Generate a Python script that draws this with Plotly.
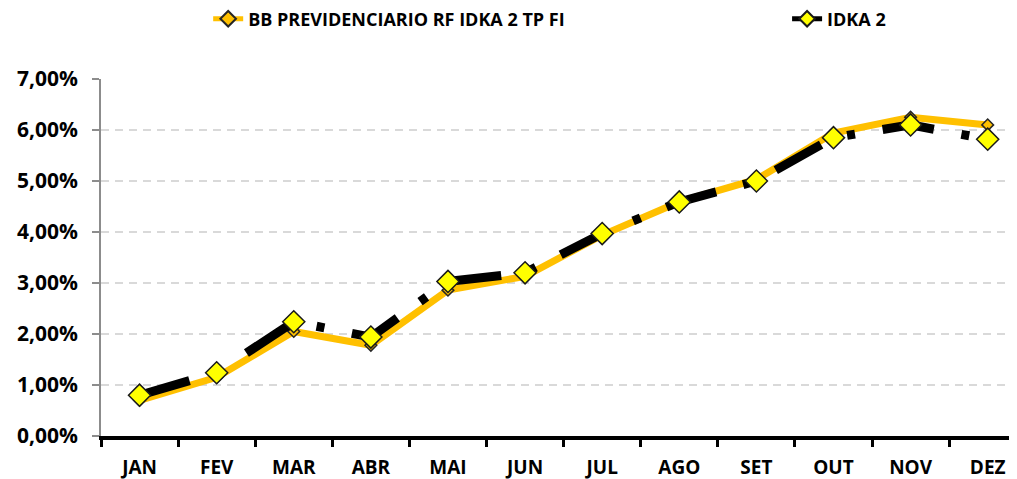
import plotly.graph_objects as go

months = ["JAN", "FEV", "MAR", "ABR", "MAI", "JUN", "JUL", "AGO", "SET", "OUT", "NOV", "DEZ"]
bb_fund = [0.70, 1.15, 2.05, 1.78, 2.86, 3.13, 3.94, 4.59, 5.03, 5.94, 6.25, 6.10]
idka2 = [0.80, 1.24, 2.24, 1.94, 3.03, 3.20, 3.97, 4.59, 5.00, 5.85, 6.10, 5.82]
y_tick_vals = [0, 1, 2, 3, 4, 5, 6, 7]
y_tick_text = ["0,00%", "1,00%", "2,00%", "3,00%", "4,00%", "5,00%", "6,00%", "7,00%"]

FONT = "Open Sans"

fig = go.Figure()
fig.add_trace(go.Scatter(
    x=months, y=bb_fund, name="BB PREVIDENCIARIO RF IDKA 2 TP FI",
    mode="lines+markers",
    line=dict(color="#FFC000", width=7),
    marker=dict(symbol="diamond", size=9, color="#FFC000",
                line=dict(color="#262626", width=1.5)),
    hoverinfo="skip", legend="legend",
))
fig.add_trace(go.Scatter(
    x=months, y=idka2, name="IDKA 2",
    mode="lines+markers",
    line=dict(color="#000000", width=9, dash="52px,28px,8px,28px"),
    marker=dict(symbol="diamond", size=17, color="#FFFF00",
                line=dict(color="#1a1a1a", width=1.5)),
    hoverinfo="skip", legend="legend2",
))

legend_common = dict(orientation="h", y=1.168, yanchor="middle", xanchor="left",
                     font=dict(family=FONT, size=18, color="#000000", weight="bold"),
                     itemsizing="constant", bgcolor="rgba(0,0,0,0)")

# the page body has an 8px margin, so the figure is offset by 8px
fig.update_layout(
    template="none",
    width=1009, height=471,
    margin=dict(l=93, r=0, t=71, b=43, autoexpand=False),
    paper_bgcolor="white", plot_bgcolor="white",
    font=dict(family=FONT, color="#000000"),
    showlegend=True,
    legend=dict(x=0.117, **legend_common),
    legend2=dict(x=0.749, **legend_common),
    xaxis=dict(
        type="category", range=[-0.5, 11.38], automargin=False,
        showline=True, linecolor="#000000", linewidth=4,
        ticks="outside", ticklen=7, tickwidth=2.5, tickcolor="#000000",
        tickson="boundaries",
        showgrid=False, zeroline=False,
        tickfont=dict(family=FONT, size=19, color="#000000", weight="bold"),
        ticklabelstandoff=11,
    ),
    yaxis=dict(
        range=[0, 7], tickvals=y_tick_vals, ticktext=y_tick_text, automargin=False,
        showline=True, linecolor="#8c8c8c", linewidth=1.5,
        ticks="outside", ticklen=7, tickwidth=1.5, tickcolor="#8c8c8c",
        showgrid=True, gridcolor="#D9D9D9", gridwidth=1.5, griddash="8px,6px",
        zeroline=False,
        tickfont=dict(family=FONT, size=21, color="#000000", weight="bold"),
        ticklabelstandoff=10,
    ),
)

fig.write_html("out.html")
